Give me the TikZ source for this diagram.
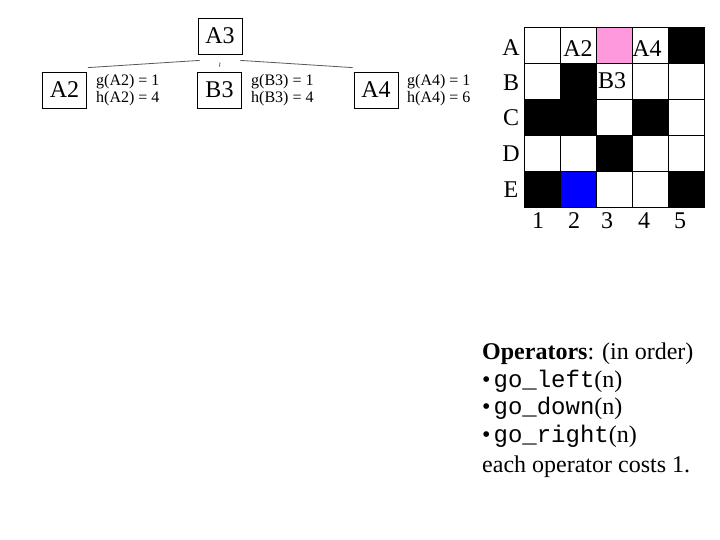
\documentclass[tikz,border=0pt]{standalone}
\usepackage{fontspec}
\setmainfont{Liberation Serif}
\setmonofont{Liberation Mono}
\definecolor{cpink}{RGB}{255,153,221}
\definecolor{cblue}{RGB}{0,0,255}
\tikzset{
  statebox/.style={draw, line width=0.8pt, minimum width=44pt, minimum height=36pt, inner sep=0pt, font=\fontsize{24}{27}\selectfont},
  costtext/.style={anchor=west, align=left, inner sep=0pt, font=\fontsize{16}{17}\selectfont},
  treeline/.style={draw=black!65, line width=0.8pt},
  cell/.style={draw=black, line width=0.8pt, minimum size=36pt, inner sep=0pt},
  gridlabel/.style={anchor=base, inner sep=0pt, font=\fontsize{24}{27}\selectfont},
  optext/.style={anchor=base west, inner sep=0pt, font=\fontsize{24}{27}\selectfont}
}
\begin{document}
\begin{tikzpicture}[x=1pt,y=-1pt]
\useasboundingbox[fill=white] (0,0) rectangle (720,540);
% tree
\node[statebox] (A3) at (220,36) {A3};
\node[statebox] (A2) at (64.5,90) {A2};
\node[statebox] (B3) at (219.5,90) {B3};
\node[statebox] (A4) at (376,90) {A4};
\node[costtext] (tA2) at (96,90) {g(A2) = 1\\h(A2) = 4};
\node[costtext] (tB3) at (251,90) {g(B3) = 1\\h(B3) = 4};
\node[costtext] (tA4) at (407,90) {g(A4) = 1\\h(A4) = 6};
\draw[treeline] ([shift={(2,6)}]A3.south west) -- ([shift={(1,-4)}]A2.north east);
\draw[treeline] ([shift={(0,8)}]A3.south) -- ([shift={(0,-5)}]B3.north);
\draw[treeline] ([shift={(-2,6)}]A3.south east) -- ([shift={(-1,-4)}]A4.north west);
% grid
\foreach \row/\cols in {1/{white,white,cpink,white,black},
                        2/{white,black,white,white,white},
                        3/{black,black,white,black,white},
                        4/{white,white,black,white,white},
                        5/{black,cblue,white,white,black}} {
  \foreach \col [count=\c] in \cols {
    \node[cell, fill=\col] (cell-\row-\c) at ({524+36*\c-18},{27+36*\row-18}) {};
  }
}
\node[gridlabel] (lA2) at (578,56.7) {A2};
\node[gridlabel] (lA4) at (647,56.7) {A4};
\node[gridlabel] (lB3) at (612,88.3) {B3};
\foreach \r/\lab/\yy in {1/A/56,2/B/91,3/C/126,4/D/162,5/E/197} {
  \node[gridlabel] (row-\r) at (511,\yy) {\lab};
}
\foreach \c/\xx in {1/538,2/574,3/607,4/644,5/680} {
  \node[gridlabel] (col-\c) at (\xx,229) {\c};
}
% operators
\node[optext] (op1) at (482,359) {\textbf{Operators}: (in order)};
\node[optext] (op2) at (482,387) {\textbullet\hspace{3pt}\texttt{go\_left}(n)};
\node[optext] (op3) at (482,414) {\textbullet\hspace{3pt}\texttt{go\_down}(n)};
\node[optext] (op4) at (482,442) {\textbullet\hspace{3pt}\texttt{go\_right}(n)};
\node[optext] (op5) at (482,472) {each operator costs 1.};
\end{tikzpicture}
\end{document}
